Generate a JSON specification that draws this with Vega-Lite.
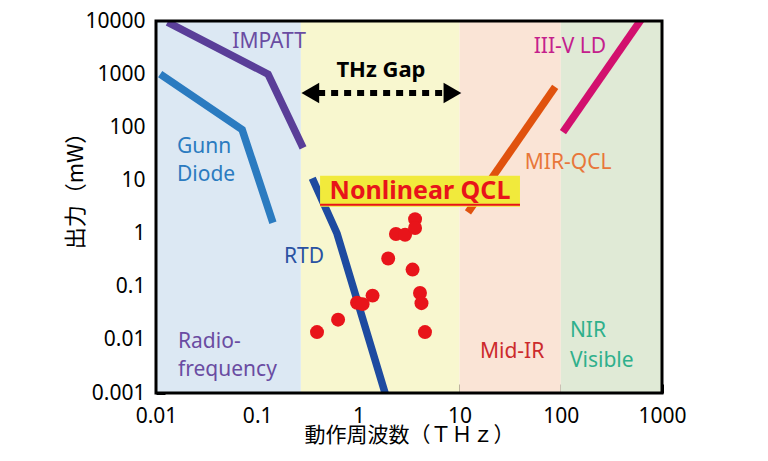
{
  "$schema": "https://vega.github.io/schema/vega-lite/v6.json",
  "width": 506,
  "height": 372,
  "autosize": {"type": "none"},
  "padding": {"left": 156, "top": 21, "right": 106, "bottom": 68},
  "background": "white",
  "config": {
    "view": {"stroke": null},
    "font": "Noto Sans",
    "axis": {"zindex": 1, "grid": false, "domain": false, "tickColor": "black", "labelColor": "black", "titleColor": "black"}
  },
  "datasets": {
    "bands": [
      {"band": "RF", "x0": 0.01, "x1": 0.27},
      {"band": "THz", "x0": 0.27, "x1": 10},
      {"band": "MIR", "x0": 10, "x1": 100},
      {"band": "NIR", "x0": 100, "x1": 1000}
    ],
    "lines": [
      {"series": "IMPATT", "order": 1, "f": 0.013, "p": 9500},
      {"series": "IMPATT", "order": 2, "f": 0.128, "p": 1000},
      {"series": "IMPATT", "order": 3, "f": 0.284, "p": 41},
      {"series": "Gunn", "order": 1, "f": 0.011, "p": 1000},
      {"series": "Gunn", "order": 2, "f": 0.071, "p": 90},
      {"series": "Gunn", "order": 3, "f": 0.143, "p": 1.6},
      {"series": "RTD", "order": 1, "f": 0.35, "p": 11},
      {"series": "RTD", "order": 2, "f": 0.615, "p": 1.0},
      {"series": "RTD", "order": 3, "f": 1.9, "p": 0.0008},
      {"series": "MIRQCL", "order": 1, "f": 12.1, "p": 2.5},
      {"series": "MIRQCL", "order": 2, "f": 88, "p": 575},
      {"series": "LD", "order": 1, "f": 105, "p": 81},
      {"series": "LD", "order": 2, "f": 640, "p": 11500}
    ],
    "dots": [
      {"f": 0.39, "p": 0.014},
      {"f": 0.63, "p": 0.024},
      {"f": 0.97, "p": 0.05},
      {"f": 1.1, "p": 0.047},
      {"f": 1.38, "p": 0.068},
      {"f": 1.97, "p": 0.34},
      {"f": 2.35, "p": 0.98},
      {"f": 2.89, "p": 0.95},
      {"f": 3.63, "p": 1.87},
      {"f": 3.63, "p": 1.27},
      {"f": 3.43, "p": 0.21},
      {"f": 4.06, "p": 0.076},
      {"f": 4.2, "p": 0.049},
      {"f": 4.55, "p": 0.014}
    ],
    "labelsCenter": [
      {"label": "IMPATT", "group": "IMPATT", "f": 0.131, "p": 4030},
      {"label": "RTD", "group": "RTD", "f": 0.29, "p": 0.366},
      {"label": "Mid-IR", "group": "MidIR", "f": 33, "p": 0.006},
      {"label": "MIR-QCL", "group": "MIRQCL", "f": 118, "p": 21.4},
      {"label": "III-V LD", "group": "LD", "f": 123, "p": 3240}
    ],
    "labelsLeft": [
      {"label": "Gunn", "group": "Gunn", "f": 0.0161, "p": 42.9},
      {"label": "Diode", "group": "Gunn", "f": 0.0161, "p": 12.7},
      {"label": "Radio-", "group": "RF", "f": 0.0165, "p": 0.00925},
      {"label": "frequency", "group": "RF", "f": 0.0165, "p": 0.00275},
      {"label": "NIR", "group": "NIR", "f": 123, "p": 0.0149},
      {"label": "Visible", "group": "NIR", "f": 123, "p": 0.00406}
    ],
    "gap": [{"label": "THz Gap", "f": 1.67, "p": 1200}],
    "arrowLine": [{"f0": 0.4, "f1": 7.2, "p": 444}],
    "arrowHeads": [
      {"dir": "left", "f": 0.335, "p": 444},
      {"dir": "right", "f": 8.5, "p": 444}
    ],
    "qclBox": [{"f0": 0.418, "f1": 39.5, "p0": 3.19, "p1": 12.2, "pu": 3.47, "label": "Nonlinear QCL", "fc": 4.06, "pc": 6.3}],
    "frame": [{}]
  },
  "layer": [
    {
      "data": {"name": "bands"},
      "mark": {"type": "rect"},
      "encoding": {
        "x": {
          "field": "x0", "type": "quantitative",
          "scale": {"type": "log", "domain": [0.01, 1000], "nice": false},
          "axis": {
            "orient": "bottom",
            "title": "動作周波数（ＴＨｚ）",
            "titleFont": "Noto Sans CJK JP",
            "titleFontSize": 21,
            "titleFontWeight": "normal",
            "titlePadding": -2,
            "values": [0.01, 0.1, 1, 10, 100, 1000],
            "labelExpr": "format(datum.value, '~g')",
            "labelFont": "Noto Sans",
            "labelFontSize": 21,
            "labelPadding": 21,
            "labelFlush": false,
            "labelOverlap": false,
            "tickSize": -9,
            "tickWidth": 3
          }
        },
        "x2": {"field": "x1"},
        "fill": {
          "field": "band", "type": "nominal", "legend": null,
          "scale": {"domain": ["RF", "THz", "MIR", "NIR"], "range": ["#dce8f3", "#f8f7cf", "#fae4d6", "#e0ead6"]}
        }
      }
    },
    {
      "data": {"name": "lines"},
      "mark": {"type": "line", "strokeWidth": 7.5, "strokeCap": "butt", "clip": true},
      "encoding": {
        "x": {
          "field": "f", "type": "quantitative",
          "axis": {
            "orient": "bottom",
            "title": null,
            "values": [0.02,0.03,0.04,0.05,0.06,0.07,0.08,0.09,0.2,0.3,0.4,0.5,0.6,0.7,0.8,0.9,2,3,4,5,6,7,8,9,20,30,40,50,60,70,80,90,200,300,400,500,600,700,800,900],
            "labels": false,
            "tickSize": -5,
            "tickWidth": 2
          }
        },
        "y": {
          "field": "p", "type": "quantitative",
          "scale": {"type": "log", "domain": [0.001, 10000], "nice": false},
          "axis": {
            "orient": "left",
            "title": "出力（mW）",
            "titleFont": "Noto Sans CJK JP",
            "titleFontSize": 22,
            "titleFontWeight": "normal",
            "titleAngle": -90,
            "titleX": -81,
            "titleY": 164,
            "titleAlign": "center",
            "titleBaseline": "middle",
            "values": [0.001, 0.01, 0.1, 1, 10, 100, 1000, 10000],
            "labelExpr": "format(datum.value, '~g')",
            "labelFont": "Noto Sans",
            "labelFontSize": 21,
            "labelPadding": 20,
            "labelFlush": false,
            "labelOverlap": false,
            "tickSize": -9,
            "tickWidth": 3
          }
        },
        "detail": {"field": "series"},
        "order": {"field": "order", "type": "quantitative"},
        "stroke": {
          "field": "series", "type": "nominal", "legend": null,
          "scale": {"domain": ["IMPATT", "Gunn", "RTD", "MIRQCL", "LD"], "range": ["#5a3e98", "#2b7bc0", "#1e4ba0", "#e0520e", "#d2106e"]}
        }
      }
    },
    {
      "data": {"name": "dots"},
      "mark": {"type": "circle", "size": 195, "color": "#e8141a", "opacity": 1},
      "encoding": {
        "x": {"field": "f", "type": "quantitative", "axis": null},
        "y": {
          "field": "p", "type": "quantitative",
          "axis": {
            "orient": "left",
            "title": null,
            "values": [0.002,0.003,0.004,0.005,0.006,0.007,0.008,0.009,0.02,0.03,0.04,0.05,0.06,0.07,0.08,0.09,0.2,0.3,0.4,0.5,0.6,0.7,0.8,0.9,2,3,4,5,6,7,8,9,20,30,40,50,60,70,80,90,200,300,400,500,600,700,800,900,2000,3000,4000,5000,6000,7000,8000,9000],
            "labels": false,
            "tickSize": -5,
            "tickWidth": 2
          }
        }
      }
    },
    {
      "data": {"name": "qclBox"},
      "mark": {"type": "rect", "color": "#f1ea3c"},
      "encoding": {
        "x": {"field": "f0", "type": "quantitative", "axis": null},
        "x2": {"field": "f1"},
        "y": {"field": "p0", "type": "quantitative", "axis": null},
        "y2": {"field": "p1"}
      }
    },
    {
      "data": {"name": "qclBox"},
      "mark": {"type": "rule", "color": "#e8141a", "strokeWidth": 2},
      "encoding": {
        "x": {"field": "f0", "type": "quantitative", "axis": null},
        "x2": {"field": "f1"},
        "y": {"field": "pu", "type": "quantitative", "axis": null}
      }
    },
    {
      "data": {"name": "qclBox"},
      "mark": {"type": "text", "font": "Noto Sans", "fontSize": 25, "fontWeight": "bold", "color": "#e8141a", "align": "center", "baseline": "middle"},
      "encoding": {
        "x": {"field": "fc", "type": "quantitative", "axis": null},
        "y": {"field": "pc", "type": "quantitative", "axis": null},
        "text": {"field": "label"}
      }
    },
    {
      "data": {"name": "labelsCenter"},
      "mark": {"type": "text", "font": "Noto Sans", "fontSize": 21, "align": "center", "baseline": "middle"},
      "encoding": {
        "x": {"field": "f", "type": "quantitative", "axis": null},
        "y": {"field": "p", "type": "quantitative", "axis": null},
        "text": {"field": "label"},
        "color": {
          "field": "group", "type": "nominal", "legend": null,
          "scale": {"domain": ["IMPATT", "RTD", "MidIR", "MIRQCL", "LD"], "range": ["#6a4ca2", "#2a52a2", "#cc2a2c", "#e8773a", "#c4208c"]}
        }
      }
    },
    {
      "data": {"name": "labelsLeft"},
      "mark": {"type": "text", "font": "Noto Sans", "fontSize": 21, "align": "left", "baseline": "middle"},
      "encoding": {
        "x": {"field": "f", "type": "quantitative", "axis": null},
        "y": {"field": "p", "type": "quantitative", "axis": null},
        "text": {"field": "label"},
        "color": {
          "field": "group", "type": "nominal", "legend": null,
          "scale": {"domain": ["Gunn", "RF", "NIR"], "range": ["#2b7bc0", "#6a4ca2", "#2fb08c"]}
        }
      }
    },
    {
      "data": {"name": "gap"},
      "mark": {"type": "text", "font": "Noto Sans", "fontSize": 22, "fontWeight": "bold", "color": "black", "align": "center", "baseline": "middle"},
      "encoding": {
        "x": {"field": "f", "type": "quantitative", "axis": null},
        "y": {"field": "p", "type": "quantitative", "axis": null},
        "text": {"field": "label"}
      }
    },
    {
      "data": {"name": "arrowLine"},
      "mark": {"type": "rule", "color": "black", "strokeWidth": 6, "strokeDash": [7, 6]},
      "encoding": {
        "x": {"field": "f0", "type": "quantitative", "axis": null},
        "x2": {"field": "f1"},
        "y": {"field": "p", "type": "quantitative", "axis": null}
      }
    },
    {
      "data": {"name": "arrowHeads"},
      "mark": {"type": "point", "filled": true, "color": "black", "size": 420, "opacity": 1},
      "encoding": {
        "x": {"field": "f", "type": "quantitative", "axis": null},
        "y": {"field": "p", "type": "quantitative", "axis": null},
        "shape": {
          "field": "dir", "type": "nominal", "legend": null,
          "scale": {"domain": ["left", "right"], "range": ["triangle-left", "triangle-right"]}
        }
      }
    },
    {
      "data": {"name": "frame"},
      "mark": {"type": "rect", "fill": null, "stroke": "black", "strokeWidth": 3},
      "encoding": {}
    }
  ],
  "resolve": {
    "scale": {"color": "independent", "fill": "independent", "stroke": "independent"},
    "axis": {"x": "independent", "y": "independent"}
  }
}
